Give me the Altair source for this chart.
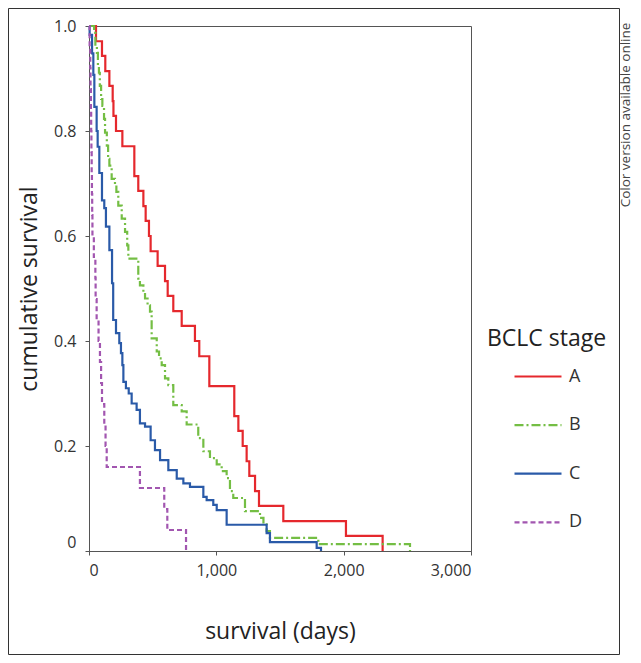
import altair as alt
import pandas as pd

# ---- data (Kaplan-Meier steps: day of drop, survival after drop)
stages = ["A", "B", "C", "D"]

a_days = [0, 55, 102, 128, 160, 186, 192, 212, 262, 356, 387, 427, 445, 471, 484, 539, 597, 618,
          662, 728, 832, 866, 945, 1141, 1173, 1207, 1238, 1259, 1304, 1335, 1526, 2018, 2306]
a_surv = [1.0, 0.971, 0.943, 0.914, 0.886, 0.857, 0.829, 0.8, 0.771, 0.714, 0.686, 0.657, 0.629, 0.6,
          0.571, 0.543, 0.514, 0.486, 0.457, 0.429, 0.4, 0.371, 0.314, 0.257, 0.229, 0.2, 0.171, 0.143,
          0.114, 0.086, 0.057, 0.029, 0.0]

b_days = [0, 40, 50, 62, 70, 78, 85, 95, 105, 118, 126, 140, 150, 160, 178, 204, 215, 230, 257, 283,
          300, 309, 387, 400, 427, 440, 460, 479, 492, 532, 550, 571, 597, 623, 662, 728, 767, 858,
          898, 950, 1003, 1042, 1081, 1107, 1133, 1225, 1343, 1370, 1395, 1421, 1801, 2521]
b_surv = [1.0, 0.987, 0.962, 0.949, 0.924, 0.911, 0.886, 0.861, 0.848, 0.823, 0.797, 0.772, 0.747,
          0.734, 0.709, 0.696, 0.684, 0.658, 0.633, 0.608, 0.582, 0.557, 0.519, 0.506, 0.494, 0.481,
          0.468, 0.456, 0.405, 0.380, 0.367, 0.354, 0.329, 0.316, 0.278, 0.266, 0.241, 0.215, 0.19,
          0.177, 0.165, 0.152, 0.139, 0.114, 0.101, 0.076, 0.063, 0.051, 0.038, 0.025, 0.013, 0.0]

c_days = [0, 5, 24, 34, 42, 60, 68, 81, 102, 120, 133, 160, 181, 190, 212, 238, 251, 262, 270, 290,
          312, 335, 374, 400, 440, 484, 518, 558, 623, 689, 741, 793, 898, 924, 976, 1003, 1081,
          1395, 1421, 1788, 1822]
c_surv = [1.0, 0.983, 0.948, 0.907, 0.846, 0.80, 0.77, 0.72, 0.668, 0.653, 0.618, 0.573, 0.51, 0.44,
          0.415, 0.396, 0.377, 0.354, 0.322, 0.31, 0.30, 0.281, 0.269, 0.243, 0.237, 0.211, 0.192,
          0.173, 0.154, 0.138, 0.129, 0.122, 0.103, 0.097, 0.088, 0.078, 0.05, 0.034, 0.017, 0.006, 0.0]

d_days = [0, 5, 10, 12, 15, 17, 19, 21, 23, 25, 27, 38, 50, 52, 60, 75, 86, 95, 102, 120, 130, 139,
          400, 591, 615, 762]
d_surv = [1.0, 0.96, 0.92, 0.88, 0.84, 0.80, 0.76, 0.72, 0.68, 0.64, 0.60, 0.56, 0.52, 0.48, 0.44,
          0.40, 0.36, 0.32, 0.28, 0.24, 0.20, 0.16, 0.12, 0.08, 0.04, 0.0]

colors = ["#e5282d", "#74be44", "#2a5aa8", "#a256b0"]
dashes = [[1, 0], [9, 3, 2, 3], [1, 0], [5, 3]]

x_ticks = [0, 1000, 2000, 3000]
y_ticks = [0, 0.2, 0.4, 0.6, 0.8, 1.0]

rows = []
for s, d, v in zip(stages, [a_days, b_days, c_days, d_days], [a_surv, b_surv, c_surv, d_surv]):
    for dd, vv in zip(d, v):
        rows.append({"stage": s, "days": dd, "surv": vv})
df = pd.DataFrame(rows)

FONT = "Open Sans"
PLOT_W, PLOT_H = 382, 525

lines = alt.Chart(df).mark_line(interpolate="step-after", strokeWidth=2.2).encode(
    x=alt.X("days:Q", scale=alt.Scale(domain=[0, 3000], nice=False),
            axis=alt.Axis(values=x_ticks, format=",d", title="survival (days)",
                          titlePadding=42.5, labelPadding=7)),
    y=alt.Y("surv:Q", scale=alt.Scale(domain=[0, 1], nice=False),
            axis=alt.Axis(values=y_ticks, title="cumulative survival",
                          labelExpr="datum.value == 0 ? '0' : format(datum.value, '.1f')",
                          labelOffset={"condition": {"test": "datum.value == 0", "value": -9},
                                       "value": 0},
                          titlePadding=12, labelPadding=9)),
    color=alt.Color("stage:N", scale=alt.Scale(domain=stages, range=colors),
                    legend=alt.Legend(title="BCLC stage")),
    strokeDash=alt.StrokeDash("stage:N", scale=alt.Scale(domain=stages, range=dashes),
                              legend=alt.Legend(title="BCLC stage")),
    order=alt.Order("days:Q"),
)

one = pd.DataFrame({"k": [0]})
border = alt.Chart(one).mark_rect(filled=False, stroke="#333333", strokeWidth=1).encode(
    x=alt.value(-80.5), x2=alt.value(530.5), y=alt.value(-17.5), y2=alt.value(628.5))

note = alt.Chart(one).mark_text(angle=270, fontSize=13.5, font=FONT, color="#444444",
                                align="center", baseline="middle").encode(
    x=alt.value(536.5), y=alt.value(89), text=alt.value("Color version available online"))

chart = alt.layer(lines, border, note).properties(
    width=PLOT_W, height=PLOT_H,
    autosize=alt.AutoSizeParams(type="none"),
    padding={"left": 81, "top": 18, "right": 162, "bottom": 104},
).configure_view(
    stroke="#555555", strokeWidth=1
).configure_axis(
    grid=False, domainColor="#555555", tickColor="#555555", tickSize=4,
    labelFont=FONT, labelFontSize=16, labelColor="#333333",
    titleFont=FONT, titleFontSize=23, titleFontWeight="normal", titleColor="#222222",
).configure_legend(
    orient="none", legendX=398, legendY=302,
    titleFont=FONT, titleFontSize=23, titleFontWeight="normal", titleColor="#222222",
    titlePadding=0.5,
    labelFont=FONT, labelFontSize=18, labelColor="#333333", labelOffset=6,
    symbolType="stroke", symbolSize=2209, symbolStrokeWidth=2.2, symbolOffset=26,
    rowPadding=14.6,
)

chart.save("out.html", embed_options={"renderer": "svg", "actions": False})
